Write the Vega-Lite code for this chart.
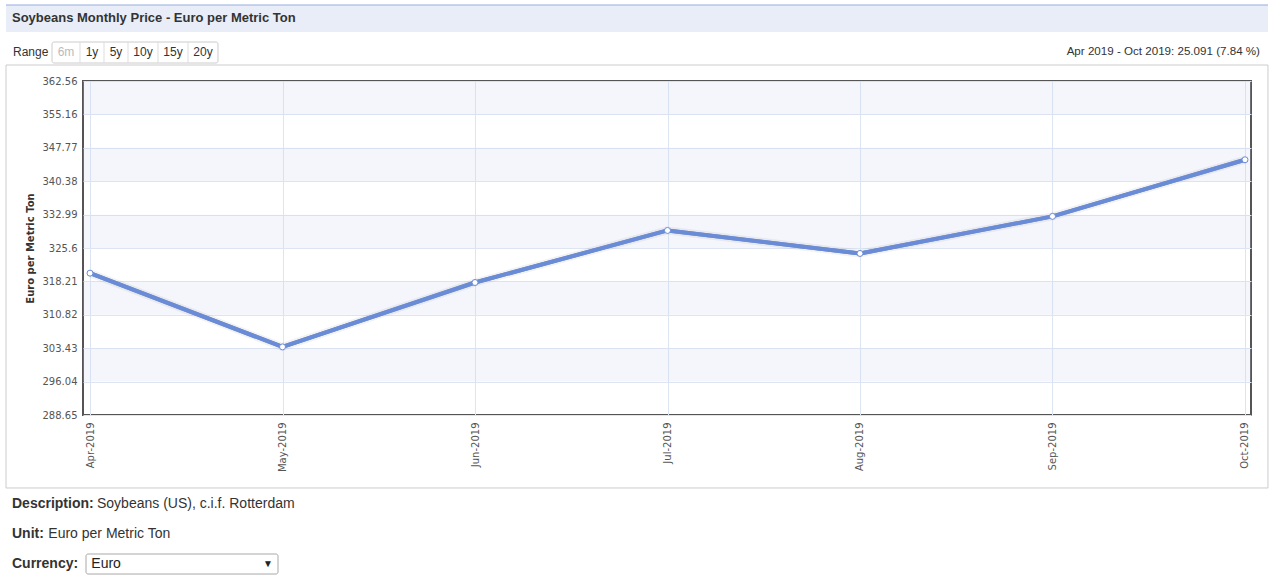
{
  "$schema": "https://vega.github.io/schema/vega-lite/v6.json",
  "width": 1168,
  "height": 334,
  "autosize": {"type": "none"},
  "padding": {"left": 83, "top": 81, "right": 19, "bottom": 170},
  "background": "#ffffff",
  "config": {
    "font": "Liberation Sans",
    "view": {"stroke": "#555555", "strokeWidth": 2}
  },
  "data": {
    "values": [
      {"i": 0, "month": "Apr-2019", "price": 320.04},
      {"i": 1, "month": "May-2019", "price": 303.72},
      {"i": 2, "month": "Jun-2019", "price": 317.97},
      {"i": 3, "month": "Jul-2019", "price": 329.49},
      {"i": 4, "month": "Aug-2019", "price": 324.40},
      {"i": 5, "month": "Sep-2019", "price": 332.60},
      {"i": 6, "month": "Oct-2019", "price": 345.13}
    ]
  },
  "layer": [
    {
      "mark": {"type": "line", "color": "#6a8bd5", "strokeWidth": 4, "strokeJoin": "round"},
      "encoding": {
        "x": {
          "field": "i", "type": "quantitative",
          "scale": {"domain": [-0.0364, 6.0312], "nice": false, "zero": false},
          "axis": {
            "values": [0, 1, 2, 3, 4, 5, 6], "tickCount": 20,
            "labelExpr": "['Apr-2019','May-2019','Jun-2019','Jul-2019','Aug-2019','Sep-2019','Oct-2019'][datum.value]",
            "labelAngle": -90, "labelFont": "DejaVu Sans", "labelFontSize": 10, "labelColor": "#555555",
            "labelPadding": 7, "ticks": false, "domain": false, "grid": true, "gridColor": "#dde5f3",
            "title": null, "labelBound": false, "labelOverlap": false, "labelFlush": false
          }
        },
        "y": {
          "field": "price", "type": "quantitative",
          "scale": {"domain": [288.65, 362.56], "nice": false, "zero": false},
          "axis": {
            "values": [288.65, 296.04, 303.43, 310.82, 318.21, 325.6, 332.99, 340.38, 347.77, 355.16, 362.56],
            "tickCount": 20,
            "labelExpr": "format(datum.value, '.2~f')",
            "labelFont": "DejaVu Sans", "labelFontSize": 10, "labelColor": "#555555", "labelPadding": 6,
            "ticks": false, "domain": false, "grid": true, "gridColor": "#dde5f3",
            "labelOverlap": false, "labelFlush": false,
            "title": "Euro per Metric Ton", "titleFont": "DejaVu Sans", "titleFontSize": 10,
            "titleFontWeight": "bold", "titleColor": "#333333", "titlePadding": 7
          }
        }
      }
    },
    {
      "data": {"values": [{}]},
      "mark": {"type": "rect", "fill": "#e8edf8"},
      "encoding": {"x": {"datum": -0.4364}, "x2": {"datum": 6.1194}, "y": {"datum": 379.38}, "y2": {"datum": 373.40}}
    },
    {
      "data": {"values": [{}]},
      "mark": {"type": "rule", "color": "#97aee0", "strokeWidth": 1},
      "encoding": {"x": {"datum": -0.4364}, "x2": {"datum": 6.1194}, "y": {"datum": 379.38}}
    },
    {
      "data": {"values": [{}]},
      "mark": {"type": "rect", "fill": null, "fillOpacity": 0, "stroke": "#cccccc", "strokeWidth": 1},
      "encoding": {"x": {"datum": -0.4364}, "x2": {"datum": 6.1194}, "y": {"datum": 366.10}, "y2": {"datum": 272.50}}
    },
    {
      "data": {"values": [{}]},
      "mark": {"type": "text", "align": "left", "baseline": "middle", "fontSize": 13, "fontWeight": "bold", "color": "#333333", "text": "Soybeans Monthly Price - Euro per Metric Ton"},
      "encoding": {"x": {"datum": -0.4052}, "y": {"datum": 376.50}}
    },
    {
      "data": {"values": [{}]},
      "mark": {"type": "text", "align": "left", "baseline": "middle", "fontSize": 12, "color": "#333333", "text": "Range"},
      "encoding": {"x": {"datum": -0.4000}, "y": {"datum": 368.98}}
    },
    {
      "data": {"values": [{}]},
      "mark": {"type": "rect", "fill": "#ffffff", "stroke": "#cccccc", "strokeWidth": 1, "cornerRadius": 2},
      "encoding": {"x": {"datum": -0.1974}, "x2": {"datum": 0.6649}, "y": {"datum": 371.19}, "y2": {"datum": 366.54}}
    },
    {
      "data": {"values": [{}]},
      "mark": {"type": "rule", "color": "#dddddd", "strokeWidth": 1},
      "encoding": {"x": {"datum": -0.052}, "y": {"datum": 371.19}, "y2": {"datum": 366.54}}
    },
    {
      "data": {"values": [{}]},
      "mark": {"type": "rule", "color": "#dddddd", "strokeWidth": 1},
      "encoding": {"x": {"datum": 0.0727}, "y": {"datum": 371.19}, "y2": {"datum": 366.54}}
    },
    {
      "data": {"values": [{}]},
      "mark": {"type": "rule", "color": "#dddddd", "strokeWidth": 1},
      "encoding": {"x": {"datum": 0.1974}, "y": {"datum": 371.19}, "y2": {"datum": 366.54}}
    },
    {
      "data": {"values": [{}]},
      "mark": {"type": "rule", "color": "#dddddd", "strokeWidth": 1},
      "encoding": {"x": {"datum": 0.3532}, "y": {"datum": 371.19}, "y2": {"datum": 366.54}}
    },
    {
      "data": {"values": [{}]},
      "mark": {"type": "rule", "color": "#dddddd", "strokeWidth": 1},
      "encoding": {"x": {"datum": 0.5091}, "y": {"datum": 371.19}, "y2": {"datum": 366.54}}
    },
    {
      "data": {"values": [{}]},
      "mark": {"type": "text", "align": "center", "baseline": "middle", "fontSize": 12, "color": "#bbbbbb", "text": "6m"},
      "encoding": {"x": {"datum": -0.1247}, "y": {"datum": 368.98}}
    },
    {
      "data": {"values": [{}]},
      "mark": {"type": "text", "align": "center", "baseline": "middle", "fontSize": 12, "color": "#333333", "text": "1y"},
      "encoding": {"x": {"datum": 0.0104}, "y": {"datum": 368.98}}
    },
    {
      "data": {"values": [{}]},
      "mark": {"type": "text", "align": "center", "baseline": "middle", "fontSize": 12, "color": "#333333", "text": "5y"},
      "encoding": {"x": {"datum": 0.1350}, "y": {"datum": 368.98}}
    },
    {
      "data": {"values": [{}]},
      "mark": {"type": "text", "align": "center", "baseline": "middle", "fontSize": 12, "color": "#333333", "text": "10y"},
      "encoding": {"x": {"datum": 0.2753}, "y": {"datum": 368.98}}
    },
    {
      "data": {"values": [{}]},
      "mark": {"type": "text", "align": "center", "baseline": "middle", "fontSize": 12, "color": "#333333", "text": "15y"},
      "encoding": {"x": {"datum": 0.4311}, "y": {"datum": 368.98}}
    },
    {
      "data": {"values": [{}]},
      "mark": {"type": "text", "align": "center", "baseline": "middle", "fontSize": 12, "color": "#333333", "text": "20y"},
      "encoding": {"x": {"datum": 0.5870}, "y": {"datum": 368.98}}
    },
    {
      "data": {"values": [{}]},
      "mark": {"type": "text", "align": "right", "baseline": "middle", "fontSize": 11.6, "color": "#333333", "text": "Apr 2019 - Oct 2019: 25.091 (7.84 %)"},
      "encoding": {"x": {"datum": 6.0779}, "y": {"datum": 368.98}}
    },
    {
      "data": {"values": [{}]},
      "mark": {"type": "text", "align": "left", "baseline": "middle", "fontSize": 14, "fontWeight": "bold", "color": "#333333", "text": "Description:"},
      "encoding": {"x": {"datum": -0.4052}, "y": {"datum": 268.95}}
    },
    {
      "data": {"values": [{}]},
      "mark": {"type": "text", "align": "left", "baseline": "middle", "fontSize": 14, "color": "#333333", "text": "Soybeans (US), c.i.f. Rotterdam"},
      "encoding": {"x": {"datum": 0.0363}, "y": {"datum": 268.95}}
    },
    {
      "data": {"values": [{}]},
      "mark": {"type": "text", "align": "left", "baseline": "middle", "fontSize": 14, "fontWeight": "bold", "color": "#333333", "text": "Unit:"},
      "encoding": {"x": {"datum": -0.4052}, "y": {"datum": 262.32}}
    },
    {
      "data": {"values": [{}]},
      "mark": {"type": "text", "align": "left", "baseline": "middle", "fontSize": 14, "color": "#333333", "text": "Euro per Metric Ton"},
      "encoding": {"x": {"datum": -0.2165}, "y": {"datum": 262.32}}
    },
    {
      "data": {"values": [{}]},
      "mark": {"type": "text", "align": "left", "baseline": "middle", "fontSize": 14, "fontWeight": "bold", "color": "#333333", "text": "Currency:"},
      "encoding": {"x": {"datum": -0.4052}, "y": {"datum": 255.68}}
    },
    {
      "data": {"values": [{}]},
      "mark": {"type": "rect", "fill": "#ffffff", "stroke": "#a9a9a9", "strokeWidth": 1, "cornerRadius": 2},
      "encoding": {"x": {"datum": -0.0208}, "x2": {"datum": 0.9766}, "y": {"datum": 257.89}, "y2": {"datum": 253.46}}
    },
    {
      "data": {"values": [{}]},
      "mark": {"type": "text", "align": "left", "baseline": "middle", "fontSize": 14, "color": "#222222", "text": "Euro"},
      "encoding": {"x": {"datum": 0.0068}, "y": {"datum": 255.68}}
    },
    {
      "data": {"values": [{}]},
      "mark": {"type": "text", "align": "center", "baseline": "middle", "fontSize": 10, "color": "#222222", "text": "▼"},
      "encoding": {"x": {"datum": 0.9247}, "y": {"datum": 255.68}}
    },
    {
      "data": {
        "values": [
          {"lo": 355.16, "hi": 362.56},
          {"lo": 340.38, "hi": 347.77},
          {"lo": 325.6, "hi": 332.99},
          {"lo": 310.82, "hi": 318.21},
          {"lo": 296.04, "hi": 303.43}
        ]
      },
      "mark": {"type": "rect", "fill": "#c8d4ef", "opacity": 0.2},
      "encoding": {"x": {"datum": -0.0364}, "x2": {"datum": 6.0312}, "y": {"field": "lo", "type": "quantitative"}, "y2": {"field": "hi"}}
    },
    {
      "mark": {"type": "line", "color": "#444444", "opacity": 0.07, "strokeWidth": 8, "strokeJoin": "round"},
      "encoding": {"x": {"field": "i", "type": "quantitative"}, "y": {"field": "price", "type": "quantitative"}}
    },
    {
      "mark": {"type": "line", "color": "#6a8bd5", "strokeWidth": 4, "strokeJoin": "round"},
      "encoding": {"x": {"field": "i", "type": "quantitative"}, "y": {"field": "price", "type": "quantitative"}}
    },
    {
      "mark": {"type": "point", "filled": true, "fill": "#ffffff", "stroke": "#6a8bd5", "strokeWidth": 1, "size": 36, "opacity": 1},
      "encoding": {"x": {"field": "i", "type": "quantitative"}, "y": {"field": "price", "type": "quantitative"}}
    }
  ]
}
